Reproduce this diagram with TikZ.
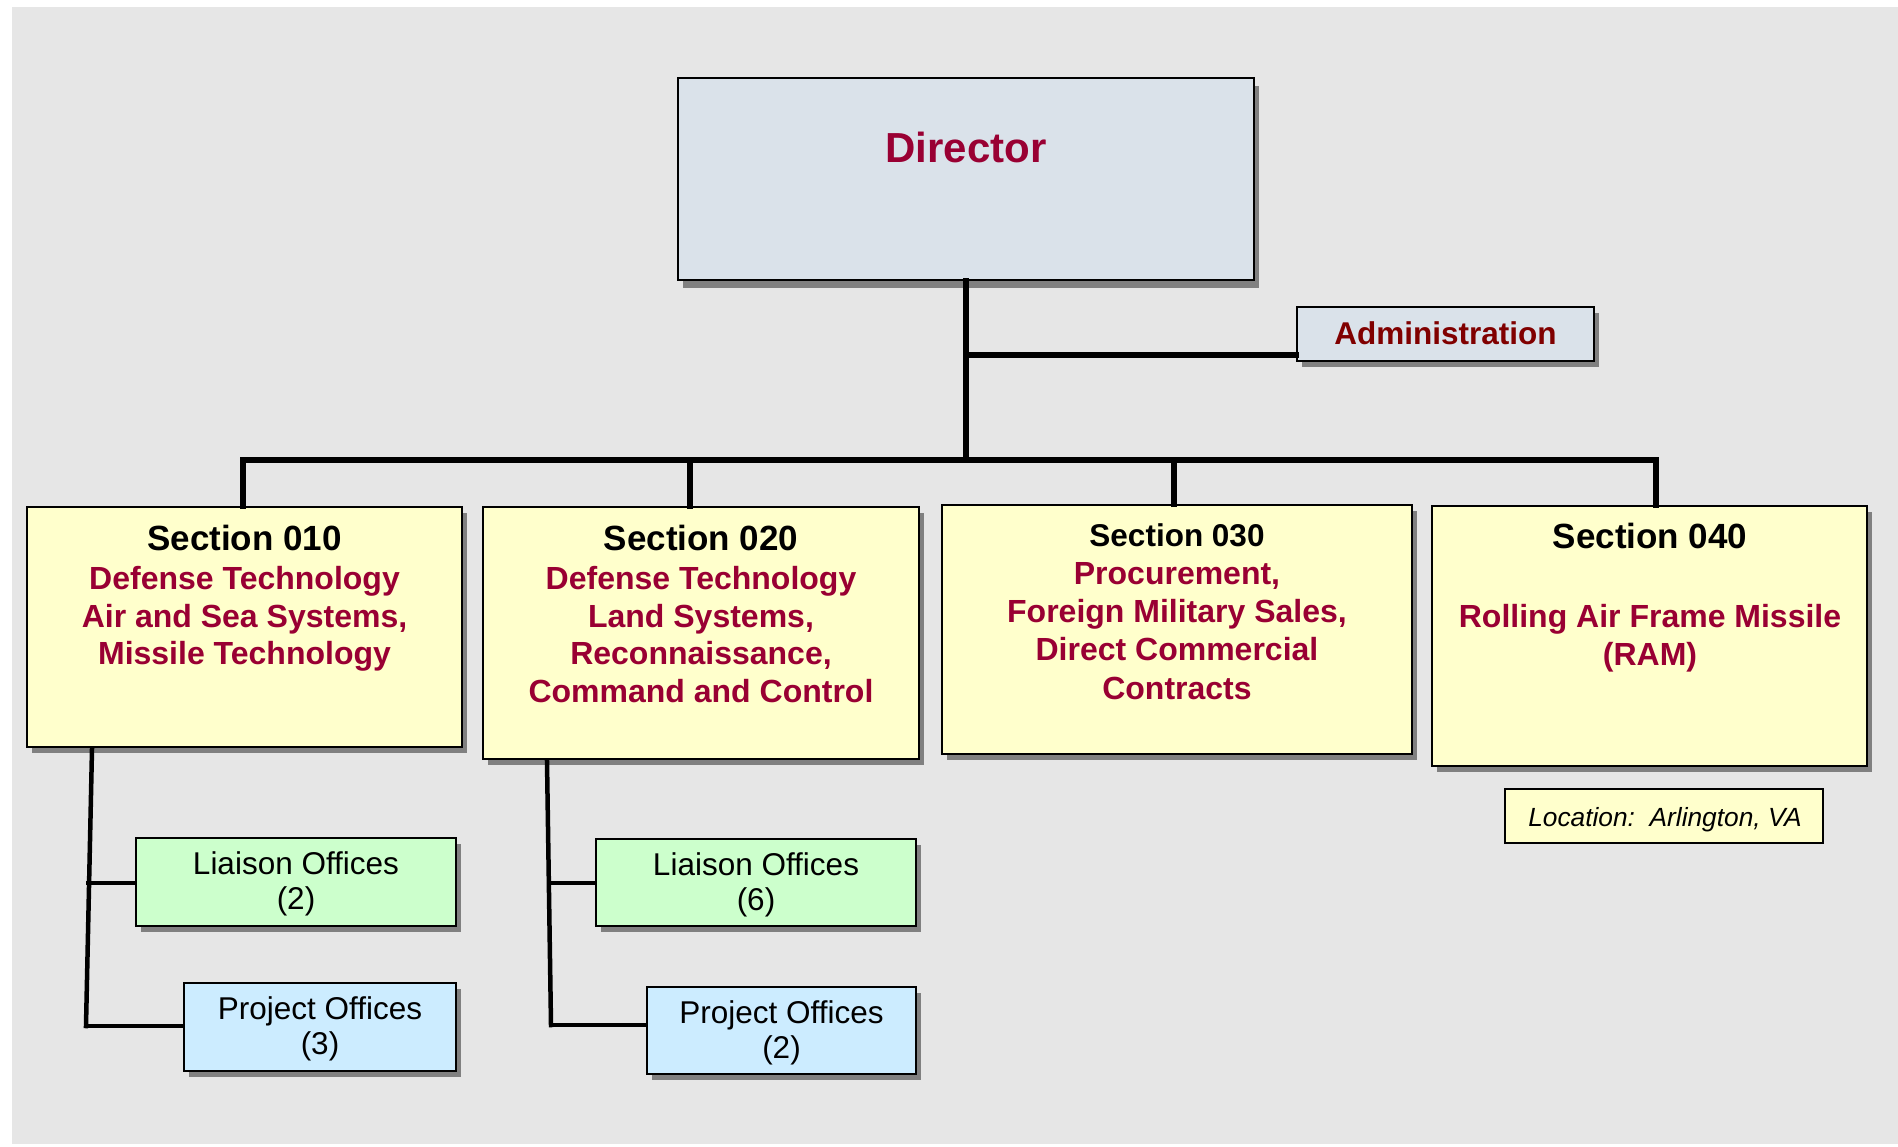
\documentclass[tikz,border=0pt]{standalone}
\usepackage{fontspec}
\setmainfont{Liberation Sans}
\definecolor{bgc}{HTML}{E6E6E6}
\definecolor{dirfill}{HTML}{DAE2EA}
\definecolor{secfill}{HTML}{FFFFCC}
\definecolor{liafill}{HTML}{CCFFCC}
\definecolor{projfill}{HTML}{CCECFF}
\definecolor{redtxt}{HTML}{990033}
\definecolor{admtxt}{HTML}{800000}
\definecolor{shadowc}{HTML}{808080}
\newcommand\fsz[2]{\fontsize{#1}{#2}\selectfont}
\tikzset{
  box/.style={draw=black, line width=2pt, inner sep=0pt, rectangle,
    preaction={fill=shadowc, transform canvas={xshift=5pt,yshift=-6pt}}},
  dirbox/.style={box, fill=dirfill},
  secbox/.style={box, fill=secfill},
  liabox/.style={box, fill=liafill},
  projbox/.style={box, fill=projfill},
  locbox/.style={draw=black, line width=2pt, inner sep=0pt, rectangle, fill=secfill},
  sectitle/.style={anchor=base, inner sep=0pt, font=\fsz{35}{38}\bfseries},
  redbody/.style={anchor=north, inner sep=0pt, align=center, text=redtxt, font=\fsz{32}{37.7}\bfseries},
  subtxt/.style={anchor=north, inner sep=0pt, align=center, font=\fsz{31.5}{35}},
  mainline/.style={line width=6pt, line cap=rect},
  subline/.style={line width=4.5pt, line cap=rect},
}
\begin{document}
\begin{tikzpicture}[x=1pt,y=-1pt]
\useasboundingbox (0,0) rectangle (1898,1146);
\fill[bgc] (12,7) rectangle (1898,1144);

% Director
\node[draw=black, line width=2pt, inner sep=0pt, rectangle, fill=dirfill,
      preaction={fill=shadowc, transform canvas={xshift=5pt,yshift=-8pt}},
      minimum width=576pt, minimum height=202pt] (dir) at (966,179) {};
\node[anchor=base, inner sep=0pt, text=redtxt, font=\fsz{42}{46}\bfseries] (dirt) at (966,162) {Director};

% Administration
\node[dirbox, minimum width=297pt, minimum height=54pt] (adm) at (1445.5,334) {};
\node[anchor=base, inner sep=0pt, text=admtxt, font=\fsz{31.5}{34}\bfseries] (admt) at (1445.5,344) {Administration};

% Sections
\node[secbox, minimum width=435pt, minimum height=240pt] (s1) at (244.5,627) {};
\node[sectitle] (s1t) at (244.5,550) {Section 010};
\node[redbody] (s1b) at (244.5,566) {Defense Technology\\Air and Sea Systems,\\Missile Technology};

\node[secbox, minimum width=436pt, minimum height=252pt] (s2) at (701,633) {};
\node[sectitle] (s2t) at (701,550) {Section 020};
\node[redbody] (s2b) at (701,566) {Defense Technology\\Land Systems,\\Reconnaissance,\\Command and Control};

\node[secbox, minimum width=470pt, minimum height=249pt] (s3) at (1177,629.5) {};
\node[sectitle, font=\fsz{31.5}{34}\bfseries] (s3t) at (1177,546) {Section 030};
\node[redbody, font=\fsz{32}{38.3}\bfseries] (s3b) at (1177,562) {Procurement,\\Foreign Military Sales,\\Direct Commercial\\Contracts};

\node[secbox, minimum width=435pt, minimum height=260pt] (s4) at (1649.5,636) {};
\node[sectitle] (s4t) at (1650,548) {Section 040};
\node[redbody, font=\fsz{32}{38.3}\bfseries] (s4b) at (1650,604) {Rolling Air Frame Missile\\(RAM)};

\node[locbox, minimum width=318pt, minimum height=54pt] (loc) at (1664,816) {};
\node[anchor=base, inner sep=0pt, font=\fsz{26.3}{28}\itshape] (loct) at (1665,826) {Location:\ \ Arlington, VA};

% Sub offices
\node[liabox, minimum width=320pt, minimum height=88pt] (l2) at (296,882) {};
\node[subtxt] (l2t) at (296,851) {Liaison Offices\\(2)};
\node[projbox, minimum width=272pt, minimum height=88pt] (p3) at (320,1027) {};
\node[subtxt] (p3t) at (320,996) {Project Offices\\(3)};

\node[liabox, minimum width=320pt, minimum height=87pt] (l6) at (756,882.5) {};
\node[subtxt] (l6t) at (756,852) {Liaison Offices\\(6)};
\node[projbox, minimum width=269pt, minimum height=87pt] (p2) at (781.5,1030.5) {};
\node[subtxt] (p2t) at (781.5,1000) {Project Offices\\(2)};

% junction coordinates
\coordinate (busL) at (243,460);
\coordinate (busR) at (1656,460);
\coordinate (d2) at (690,460);
\coordinate (d3) at (1174,460);
\coordinate (admj) at (966,355);
\coordinate (v1t) at (92,749);
\coordinate (v1b) at (86,1026);
\coordinate (j1) at (88,883);
\coordinate (v2t) at (547,761);
\coordinate (v2b) at (551,1025);
\coordinate (j2) at (550,883);

% connectors
\draw[mainline] (busL) -- (busR);
\draw[mainline] (dir.south) -- (dir.south |- busL);
\draw[mainline] (admj) -- (admj -| adm.west);
\draw[mainline] (busL) -- (busL |- s1.north);
\draw[mainline] (d2) -- (d2 |- s2.north);
\draw[mainline] (d3) -- (d3 |- s3.north);
\draw[mainline] (busR) -- (busR |- s4.north);
\draw[subline] (v1t) -- (v1b);
\draw[subline] (j1) -- (j1 -| l2.west);
\draw[subline] (v1b) -- (v1b -| p3.west);
\draw[subline] (v2t) -- (v2b);
\draw[subline] (j2) -- (j2 -| l6.west);
\draw[subline] (v2b) -- (v2b -| p2.west);
\end{tikzpicture}
\end{document}
